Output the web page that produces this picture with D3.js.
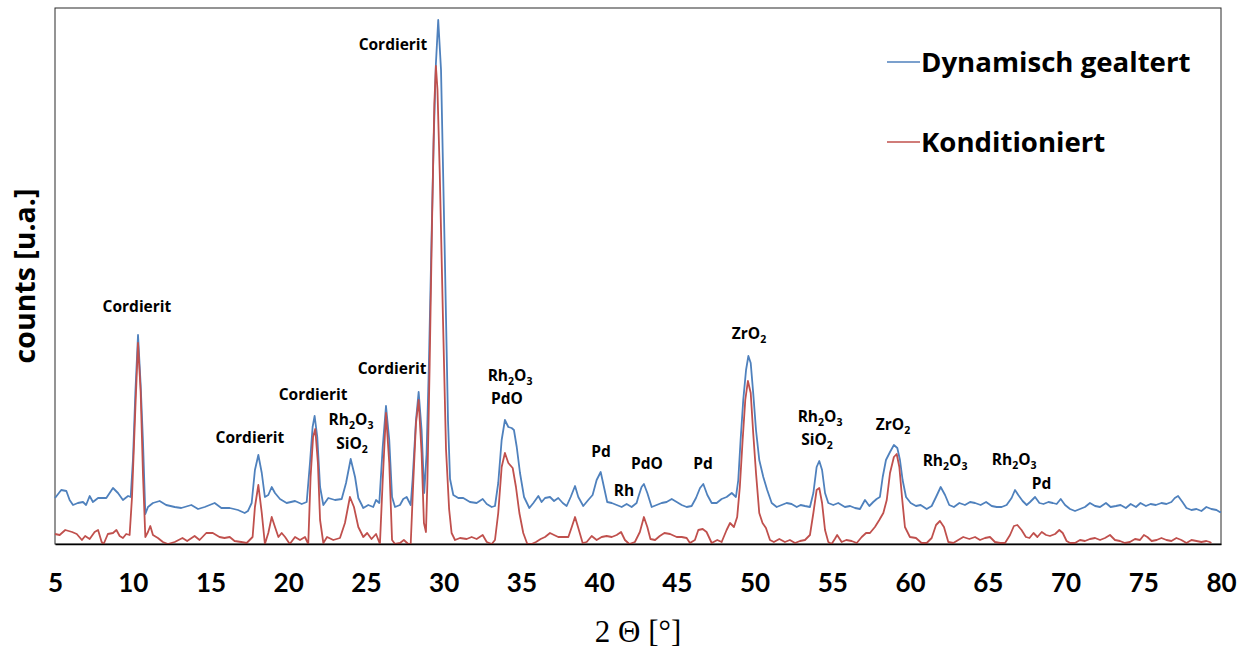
<!DOCTYPE html>
<html>
<head>
<meta charset="utf-8">
<script src="https://cdn.jsdelivr.net/npm/d3@7/dist/d3.min.js"></script>
<style>
  html, body { margin: 0; padding: 0; background: #fff; }
  svg { display: block; }
</style>
</head>
<body>
<svg id="chart" width="1250" height="651"></svg>
<script>
// Diffraction patterns: 2-theta (degrees) and intensity (arbitrary units)
const thetaAged = [5.0,5.4,5.73,5.94,6.16,6.47,6.8,7.0,7.23,7.44,7.77,8.09,8.3,8.73,9.05,9.37,9.7,9.87,10.02,10.17,10.34,10.51,10.66,10.81,10.98,11.3,11.73,12.15,12.7,13.12,13.77,14.2,14.63,15.27,15.7,16.24,16.77,17.2,17.41,17.65,17.86,18.08,18.3,18.5,18.72,18.94,19.15,19.47,19.9,20.44,20.87,21.19,21.4,21.57,21.7,21.87,22.05,22.26,22.58,23.01,23.44,23.72,24.02,24.3,24.51,24.83,25.15,25.47,25.65,25.86,26.08,26.29,26.5,26.68,26.87,27.19,27.4,27.62,27.88,28.0,28.22,28.39,28.58,28.75,28.9,29.05,29.2,29.35,29.5,29.65,29.83,30.06,30.28,30.41,30.62,30.94,31.26,31.69,32.12,32.51,32.77,33.09,33.3,33.51,33.73,33.94,34.16,34.37,34.52,34.7,34.91,35.17,35.51,35.77,36.09,36.3,36.52,36.84,37.1,37.37,37.66,37.91,38.17,38.45,38.66,38.98,39.3,39.58,39.84,40.1,40.31,40.52,40.81,41.13,41.45,41.77,42.09,42.41,42.52,42.73,42.88,43.1,43.38,43.7,44.02,44.34,44.67,44.99,45.31,45.63,45.95,46.23,46.49,46.7,46.96,47.24,47.56,47.88,48.2,48.53,48.8,48.95,49.1,49.27,49.45,49.6,49.75,49.91,50.09,50.3,50.56,50.81,51.1,51.42,51.74,52.06,52.38,52.71,52.96,53.24,53.56,53.78,53.99,54.16,54.34,54.53,54.74,55.06,55.38,55.81,56.14,56.46,56.78,57.1,57.38,57.63,57.85,58.06,58.24,58.45,58.71,58.96,59.18,59.35,59.52,59.74,60.04,60.38,60.68,61.07,61.39,61.67,61.97,62.25,62.52,62.82,63.17,63.53,63.86,64.18,64.54,64.89,65.25,65.57,65.89,66.21,66.53,66.75,66.96,67.24,67.5,67.72,68.04,68.32,68.58,68.9,69.18,69.43,69.69,69.97,70.29,70.61,70.93,71.25,71.57,71.9,72.22,72.6,72.9,73.24,73.54,73.88,74.19,74.53,74.82,75.17,75.47,75.81,76.17,76.49,76.81,77.03,77.24,77.52,77.78,78.1,78.42,78.74,79.06,79.38,79.71,79.92,80.0];
const countsAged = [46,54,53,44,39,41,42,39,48,42,46,46,46,56,51,44,48,47,86,152,209,159,102,30,37,41,43,39,37,36,39,35,37,41,36,36,34,31,33,41,74,89,71,47,49,57,51,45,41,43,40,42,81,117,128,107,57,39,46,44,45,61,85,67,46,36,39,37,44,41,97,138,104,47,37,39,45,47,39,64,124,152,114,51,90,180,290,400,480,524,474,299,123,65,49,46,46,42,41,45,40,37,38,61,104,124,117,116,114,97,71,47,36,41,48,42,46,47,43,46,41,38,47,58,47,38,44,49,64,72,57,42,41,39,37,40,37,41,47,57,60,51,37,39,41,42,45,42,39,37,38,46,56,60,49,41,41,45,47,51,47,64,104,144,174,188,181,151,114,84,67,54,41,37,39,41,40,37,39,38,37,51,77,83,74,51,41,39,41,37,38,36,35,44,38,42,45,47,67,84,92,99,96,84,64,47,41,38,39,35,38,47,57,49,39,37,41,39,42,41,39,42,38,37,37,39,46,54,49,43,39,42,47,41,40,42,41,40,45,39,35,33,35,37,41,38,37,41,37,38,39,36,40,37,41,38,40,39,41,40,42,46,48,42,36,34,35,33,37,35,34,32,32];

const thetaCond = [5.0,5.3,5.66,6.1,6.4,6.73,6.94,7.23,7.55,7.77,8.0,8.13,8.4,8.73,8.95,9.16,9.37,9.58,9.8,9.95,10.17,10.34,10.51,10.66,10.81,10.98,11.13,11.3,11.62,11.94,12.26,12.7,13.2,13.5,13.98,14.3,14.73,15.15,15.58,15.9,16.24,16.55,16.98,17.33,17.71,17.86,18.08,18.3,18.5,18.72,18.94,19.15,19.37,19.58,19.8,20.1,20.44,20.76,21.08,21.29,21.44,21.6,21.74,21.91,22.05,22.26,22.5,22.9,23.33,23.65,23.97,24.23,24.51,24.83,25.08,25.36,25.65,25.9,26.08,26.29,26.5,26.68,26.87,27.19,27.44,27.72,27.88,28.05,28.22,28.39,28.58,28.73,28.86,28.95,29.1,29.25,29.4,29.5,29.6,29.75,29.95,30.15,30.35,30.51,30.73,31.05,31.48,31.8,32.12,32.51,32.77,33.09,33.3,33.51,33.73,33.94,34.16,34.44,34.65,34.87,35.12,35.38,35.66,35.94,36.24,36.52,36.84,37.1,37.37,37.69,38.02,38.24,38.45,38.66,38.94,39.2,39.52,39.84,40.16,40.48,40.81,41.13,41.41,41.66,41.94,42.3,42.62,42.88,43.1,43.3,43.6,43.9,44.2,44.56,44.99,45.31,45.63,45.84,46.16,46.38,46.66,46.91,47.24,47.6,47.88,48.2,48.42,48.67,48.88,49.05,49.23,49.4,49.57,49.75,49.91,50.09,50.3,50.51,50.73,50.99,51.24,51.59,51.95,52.27,52.6,52.92,53.24,53.56,53.78,53.99,54.16,54.34,54.53,54.74,54.95,55.16,55.31,55.6,55.9,56.24,56.57,56.89,57.17,57.42,57.74,58.02,58.28,58.5,58.71,58.96,59.14,59.31,59.48,59.67,59.99,60.38,60.74,61.07,61.39,61.67,61.92,62.18,62.46,62.78,63.1,63.42,63.81,64.18,64.5,64.82,65.14,65.46,65.79,66.11,66.43,66.68,66.9,67.17,67.45,67.68,67.94,68.19,68.47,68.75,69.0,69.33,69.6,69.82,70.07,70.29,70.61,70.93,71.25,71.57,71.9,72.22,72.54,72.86,73.18,73.5,73.82,74.14,74.47,74.79,75.04,75.26,75.54,75.86,76.17,76.49,76.81,77.13,77.45,77.78,78.1,78.42,78.74,79.06,79.27,79.38];
const countsCond = [10,9,14,12,10,4,8,5,12,14,2,0,10,11,14,8,6,10,9,46,136,201,152,69,7,12,18,9,6,2,0,2,6,3,8,4,11,11,7,6,7,3,2,1,7,37,59,31,0,11,27,17,7,11,7,0,7,4,7,0,67,107,115,81,24,1,7,4,6,21,47,37,17,7,11,5,10,0,64,131,81,4,0,1,4,0,0,64,121,144,91,21,12,60,180,320,440,478,455,370,229,95,35,11,4,6,5,7,5,9,2,0,4,31,77,91,81,76,57,31,11,0,0,2,5,7,11,9,7,7,7,17,27,16,1,2,8,4,7,8,7,9,12,4,0,2,12,27,17,5,4,8,11,10,7,7,6,1,4,14,15,12,1,4,2,14,21,17,27,57,104,144,163,151,111,71,31,21,16,4,2,5,2,4,1,3,4,9,31,54,56,41,14,2,0,5,9,2,4,3,1,7,11,11,17,24,31,44,71,87,90,77,47,17,7,6,1,1,6,19,23,17,2,1,4,7,5,7,4,6,7,2,1,1,9,18,19,14,7,6,11,7,12,9,8,10,14,11,3,1,1,4,3,5,6,4,6,9,4,3,1,2,5,4,9,7,3,4,6,4,3,6,4,1,4,3,2,3,2,1];

// x axis ticks
const xTicks = [5,10,15,20,25,30,35,40,45,50,55,60,65,70,75,80];

// Phase labels: text ("_" marks a subscript digit) anchored at (2-theta, intensity)
const peakLabels = ["Cordierit","Cordierit","Cordierit","Rh_2O_3","SiO_2","Cordierit","Cordierit","Rh_2O_3","PdO","Pd","Rh","PdO","Pd","ZrO_2","Rh_2O_3","SiO_2","ZrO_2","Rh_2O_3","Rh_2O_3","Pd"];
const labelTheta  = [10.27,17.54,21.6,24.04,24.1,26.68,26.74,34.27,34.07,40.12,41.6,43.08,46.68,49.64,54.21,54.01,58.9,62.25,66.7,68.45];
const labelCounts = [238,107,150,125,101,176,500,169,146,93,54,81,81,211,128,105,120,84,85,61];

const seriesNames = ["Dynamisch gealtert","Konditioniert"];
const seriesColors = ["#4F81BD","#C0504D"];

const W = 1250, H = 651;
const plot = { left: 55, right: 1221, top: 8, bottom: 544 };
const boldFont = "'Open Sans', Lato, sans-serif";
const tickFont = "Lato, 'Open Sans', sans-serif";

const svg = d3.select("#chart");
svg.append("rect").attr("width", W).attr("height", H).attr("fill", "#fff");

const x = d3.scaleLinear().domain([5, 80]).range([plot.left, plot.right]);
const y = d3.scaleLinear().domain([0, 536]).range([plot.bottom, plot.top]);

// frame of the plot area
svg.append("rect")
  .attr("x", plot.left).attr("y", plot.top)
  .attr("width", plot.right - plot.left).attr("height", plot.bottom - plot.top)
  .attr("fill", "none").attr("stroke", "#2a2a2a").attr("stroke-width", 1);

// traces
const line = d3.line().x(d => x(d[0])).y(d => y(d[1]));
const aged = d3.zip(thetaAged, countsAged);
const cond = d3.zip(thetaCond, countsCond);
[aged, cond].forEach((data, i) => {
  svg.append("path")
    .datum(data)
    .attr("d", line)
    .attr("fill", "none")
    .attr("stroke", seriesColors[i])
    .attr("stroke-width", 1.8)
    .attr("stroke-linejoin", "round");
});

// x axis
const xAxis = d3.axisBottom(x).tickValues(xTicks).tickSize(0).tickPadding(30).tickFormat(d3.format("d"));
const gx = svg.append("g").attr("transform", `translate(0,${plot.bottom})`).call(xAxis);
gx.select(".domain").attr("stroke", "#000").attr("stroke-width", 1.5);
gx.selectAll(".tick text")
  .attr("font-family", tickFont)
  .attr("font-weight", "bold")
  .attr("font-size", 26)
  .attr("fill", "#000");

// axis titles
svg.append("text")
  .attr("x", 638).attr("y", 642)
  .attr("text-anchor", "middle")
  .attr("font-family", "'Liberation Serif', 'DejaVu Serif', serif")
  .attr("font-size", 31)
  .attr("fill", "#000")
  .text("2 \u0398 [\u00B0]");

svg.append("text")
  .attr("transform", "translate(35,276) rotate(-90)")
  .attr("text-anchor", "middle")
  .attr("font-family", boldFont)
  .attr("font-weight", "bold")
  .attr("font-size", 28.5)
  .attr("fill", "#000")
  .text("counts [u.a.]");

// phase labels with subscripts
peakLabels.forEach((label, i) => {
  const t = svg.append("text")
    .attr("x", x(labelTheta[i]))
    .attr("y", y(labelCounts[i]) + 6)
    .attr("text-anchor", "middle")
    .attr("font-family", boldFont)
    .attr("font-weight", "bold")
    .attr("font-size", 15.5)
    .attr("fill", "#000");
  const parts = label.split(/(_\d)/).filter(s => s.length);
  let shifted = false;
  parts.forEach(p => {
    if (p[0] === "_") {
      t.append("tspan").attr("dy", shifted ? 0 : 4).attr("font-size", 10.5).text(p.slice(1));
      shifted = true;
    } else {
      t.append("tspan").attr("dy", shifted ? -4 : 0).text(p);
      shifted = false;
    }
  });
});

// legend
const legendY = [62, 142];
seriesNames.forEach((name, i) => {
  svg.append("line")
    .attr("x1", 887).attr("x2", 920)
    .attr("y1", legendY[i]).attr("y2", legendY[i])
    .attr("stroke", seriesColors[i]).attr("stroke-width", 1.7);
  svg.append("text")
    .attr("x", 921).attr("y", legendY[i] + 10)
    .attr("font-family", boldFont)
    .attr("font-weight", "bold")
    .attr("font-size", 27.6)
    .attr("fill", "#000")
    .text(name);
});
</script>
</body>
</html>
